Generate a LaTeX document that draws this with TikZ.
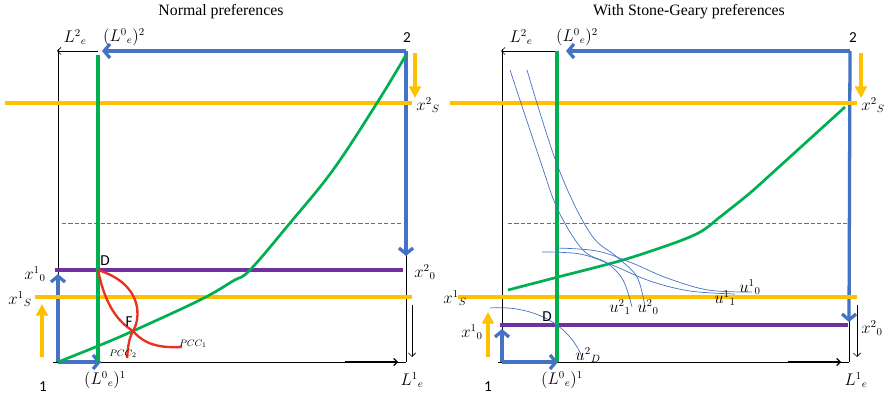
\documentclass[tikz,border=0pt]{standalone}
\usepackage{fontspec}
\setmainfont{Liberation Serif}
\newfontfamily\calibrifont{Carlito}
\usetikzlibrary{arrows.meta}
\definecolor{flowblue}{RGB}{68,114,196}
\definecolor{supplyyel}{RGB}{255,192,0}
\definecolor{edgegreen}{RGB}{0,176,80}
\definecolor{endowpurple}{RGB}{112,48,160}
\definecolor{pccred}{RGB}{230,50,30}

\begin{document}
\begin{tikzpicture}[x=0.03cm, y=-0.03cm, line width=0.6pt,
  lab/.style={font=\fontsize{13.5}{15}\selectfont, inner sep=0pt},
  pnt/.style={font=\calibrifont\fontsize{13}{15}\selectfont, inner sep=0pt},
  ttl/.style={font=\fontsize{13.5}{16}\selectfont, inner sep=0pt},
  small/.style={font=\fontsize{8}{9}\selectfont, inner sep=0pt},
  frame/.style={draw=black, line width=0.6pt},
  cornerarr/.style={frame, -{Straight Barb[length=3pt,width=6pt]}},
  axisarr/.style={draw=black, line width=1pt, -{Straight Barb[length=3pt,width=6pt]}},
  bluearr/.style={draw=flowblue, line width=2.8pt, -{Straight Barb[length=5pt,width=12pt]}},
  yelarr/.style={draw=supplyyel, line width=3pt, -{Triangle[length=10pt,width=10pt]}},
  yelline/.style={draw=supplyyel, line width=3.2pt},
  purpline/.style={draw=endowpurple, line width=3.6pt},
  greenv/.style={draw=edgegreen, line width=3.2pt},
  greenc/.style={draw=edgegreen, line width=2.3pt},
  dashline/.style={draw=flowblue, line width=0.85pt, dash pattern=on 3.5pt off 2pt},
  indiff/.style={draw=flowblue, line width=0.6pt},
  pcc/.style={draw=pccred, line width=2pt}]
\useasboundingbox (0,0) rectangle (887,395);

% ---- (a) normal preferences
\node[ttl] (ttla) at (221,12) {Normal preferences};
\coordinate (oa) at (58,362);
\coordinate (ca) at (406,51);
\coordinate (da) at (98,270);
\coordinate (fa) at (133,331);
% box
\draw[frame] (oa) -- (58,49);
\draw[cornerarr] (98,51) -- (57,51);
\draw[frame] (53,362) -- (406,362);
\draw[axisarr] (345,362) -- (398,362);
\draw[frame] (406,255) -- (406,362);
\draw[bluearr] (ca) -- (102,51);
\draw[bluearr] (ca) -- (406,256);
\draw[bluearr] (oa) -- (58,274);
\draw[bluearr] (oa) -- (101,362);
\draw[frame, -{Straight Barb[length=3pt,width=6pt]}] (412,305) -- (412,357);
% supply and endowment lines
\draw[dashline] (62,223) -- (405,223);
\draw[yelline] (5,103) -- (412,103);
\draw[yelline] (35,297) -- (412,297);
\draw[yelarr] (415,53) -- (415,98);
\draw[yelarr] (42,357) -- (42,304);
\draw[purpline] (55,270) -- (403,270);
\draw[greenv] (98,55) -- (98,362);
\draw[greenc] plot[smooth, tension=0.6] coordinates {(58,362) (98,346) (133,331) (200,300) (233,281) (250,270) (290,223) (333,170) (377,103) (406,55)};
% offer curves
\draw[pcc] (da) .. controls (145,285) and (140,320) .. (fa) .. controls (128,340) and (128,350) .. (127,358);
\draw[pcc] (da) .. controls (104,300) and (115,320) .. (fa) .. controls (145,345) and (160,348) .. (182,347);
% labels
\node[pnt] (pa2) at (407,38) {2};
\node[pnt] (pa1) at (43,387) {1};
\node[pnt] (dlab) at (105,261) {D};
\node[pnt] (flab) at (129,322) {F};
\node[lab] at (75,37) {$L^{2}{}_{e}$};
\node[lab] at (124,37) {$(L^{0}{}_{e})^{2}$};
\node[lab] at (105,380) {$(L^{0}{}_{e})^{1}$};
\node[lab] at (412,380) {$L^{1}{}_{e}$};
\node[lab] at (428,105) {$x^{2}{}_{S}$};
\node[lab] at (425,272) {$x^{2}{}_{0}$};
\node[lab] at (35,274) {$x^{1}{}_{0}$};
\node[lab] at (20,299) {$x^{1}{}_{S}$};
\node[small] at (193,344) {$PCC_{1}$};
\node[small] at (123,354) {$PCC_{2}$};

% ---- (b) Stone-Geary preferences
\node[ttl] (ttlb) at (689,12) {With Stone-Geary preferences};
\coordinate (ob) at (502,362);
\coordinate (cb) at (850,51);
\coordinate (db) at (557,325);
% box
\draw[frame] (ob) -- (502,49);
\draw[cornerarr] (557,51) -- (501,51);
\draw[frame] (498,362) -- (849,362);
\draw[axisarr] (788,362) -- (841,362);
\draw[frame] (849,320) -- (849,362);
\draw[bluearr] (cb) -- (566,51);
\draw[bluearr] (cb) -- (849,322);
\draw[bluearr] (ob) -- (502,329);
\draw[bluearr] (ob) -- (558,362);
\draw[frame, -{Straight Barb[length=3pt,width=6pt]}] (857,305) -- (857,357);
% supply and endowment lines
\draw[dashline] (508,223) -- (848,223);
\draw[yelline] (450,103) -- (857,103);
\draw[yelline] (458,297) -- (857,297);
\draw[yelarr] (861,53) -- (861,98);
\draw[yelarr] (488,357) -- (488,312);
\draw[purpline] (500,325) -- (848,325);
\draw[greenv] (557,51) -- (557,362);
\draw[greenc] plot[smooth, tension=0.5] coordinates {(508,290) (558,277) (623,260) (677,242) (702,231) (720,217) (750,193) (780,166) (845,107)};
% indifference curves
\draw[indiff] plot[smooth, tension=0.6] coordinates {(510,70) (540,160) (558,210) (583,250) (607,263) (623,280) (632,307)};
\draw[indiff] plot[smooth, tension=0.6] coordinates {(527,70) (558,167) (590,233) (617,257) (637,277) (645,307)};
\draw[indiff] plot[smooth, tension=0.6] coordinates {(542,252) (580,254) (612,265) (650,281) (690,291) (735,294)};
\draw[indiff] plot[smooth, tension=0.6] coordinates {(555,248) (597,251) (632,263) (667,278) (708,290) (752,292)};
\draw[indiff] (490,308) .. controls (530,305) and (568,322) .. (582,357);
% labels
\node[pnt] (pb2) at (853,38) {2};
\node[pnt] (pb1) at (488,387) {1};
\node[pnt] (dlabb) at (547,317) {D};
\node[lab] at (521,37) {$L^{2}{}_{e}$};
\node[lab] at (577,37) {$(L^{0}{}_{e})^{2}$};
\node[lab] at (562,380) {$(L^{0}{}_{e})^{1}$};
\node[lab] at (856,380) {$L^{1}{}_{e}$};
\node[lab] at (873,105) {$x^{2}{}_{S}$};
\node[lab] at (872,328) {$x^{2}{}_{0}$};
\node[lab] at (472,332) {$x^{1}{}_{0}$};
\node[lab] at (455,298) {$x^{1}{}_{S}$};
\node[lab] at (620,307) {$u^{2}{}_{1}$};
\node[lab] at (648,307) {$u^{2}{}_{0}$};
\node[lab] at (725,298) {$u^{1}{}_{1}$};
\node[lab] at (750,287) {$u^{1}{}_{0}$};
\node[lab] at (588,355) {$u^{2}{}_{D}$};
\end{tikzpicture}
\end{document}
